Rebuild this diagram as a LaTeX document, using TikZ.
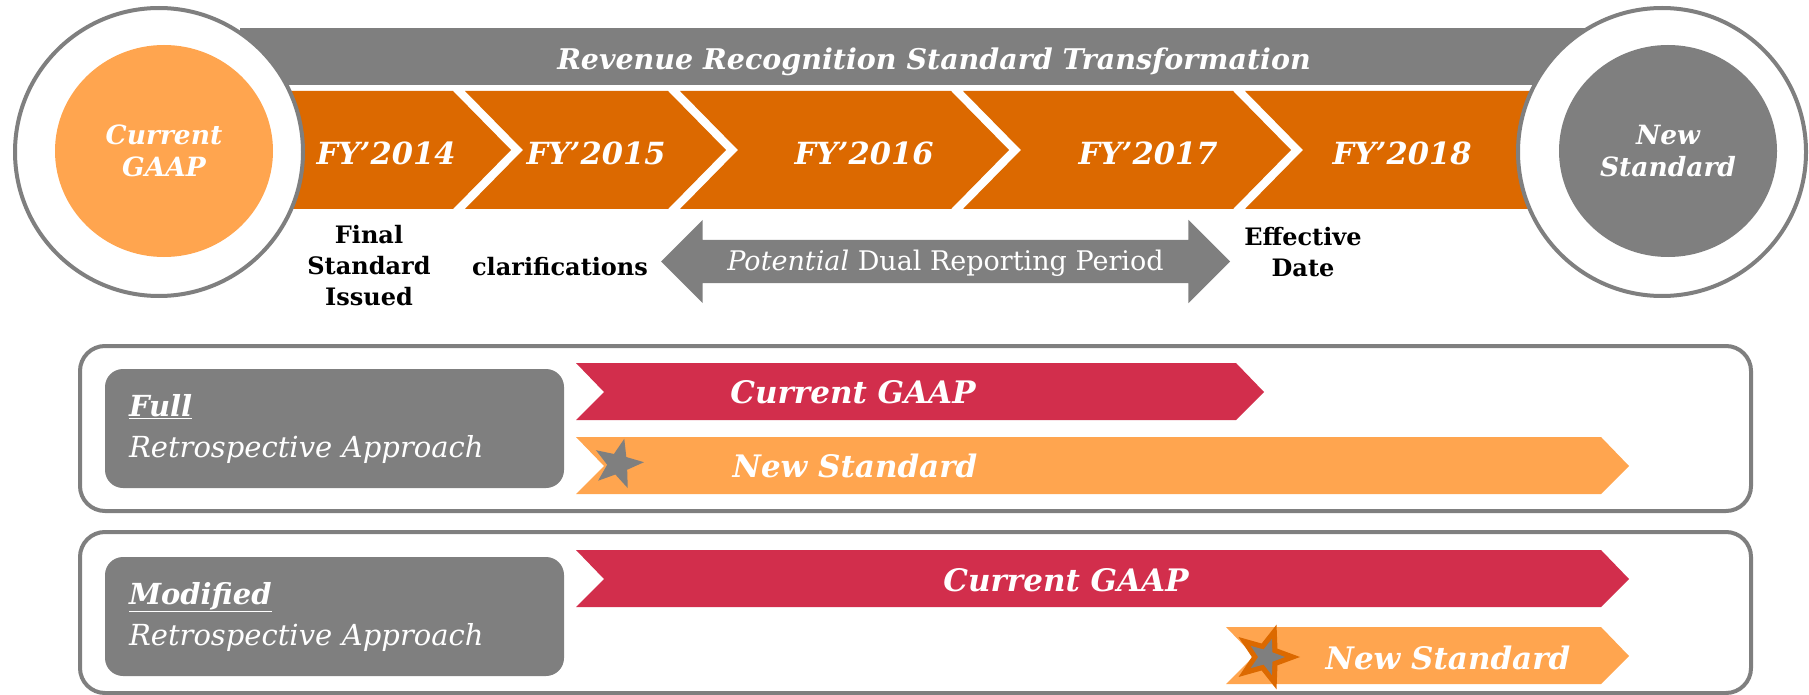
\documentclass[tikz,border=0pt]{standalone}
\usepackage{fontspec}
\setmainfont{DejaVu Serif}
\usepackage{tikz}
\usetikzlibrary{shapes.geometric, shapes.arrows}
\definecolor{orangeColor}{HTML}{DC6900}
\definecolor{lightColor}{HTML}{FFA54F}
\definecolor{redColor}{HTML}{D22E4C}
\definecolor{grayColor}{HTML}{7F7F7F}

\tikzset{
    ring/.style={circle, draw=grayColor, line width=4pt, fill=white, minimum size=288pt, inner sep=0pt},
    disc/.style={ellipse, minimum width=218pt, minimum height=212pt, inner sep=0pt, align=center,
        text=white, font=\bfseries\itshape\fontsize{26.5}{32}\selectfont},
    yearlabel/.style={text=white, font=\bfseries\itshape\fontsize{30.5}{34}\selectfont},
    milestone/.style={align=center, font=\bfseries\fontsize{24}{31}\selectfont},
    approachbox/.style={rounded corners=18pt, fill=grayColor, text=white, align=left,
        text width=411pt, inner xsep=24pt, minimum height=119pt,
        font=\itshape\fontsize{29}{41}\selectfont},
    bartext/.style={text=white, font=\bfseries\itshape\fontsize{31}{34}\selectfont},
    panel/.style={draw=grayColor, line width=4pt, rounded corners=25pt},
    starmark/.style={star, star points=5, star point ratio=2.4, inner sep=0pt}
}

\begin{document}
\begin{tikzpicture}[x=1pt, y=-1pt]
    \useasboundingbox (0,0) rectangle (1809,695);
    % title banner
    \fill[grayColor] (240,28) rectangle (1590,85);
    \node[text=white, font=\bfseries\itshape\fontsize{28.5}{32}\selectfont] (title) at (934,62)
        {Revenue Recognition Standard Transformation};
    % year chevrons
    \foreach \a/\b in {200/453, 465/668, 680/951, 963/1233}
        \fill[orangeColor] (\a,91) -- (\b,91) -- (\b+58,150) -- (\b,209) -- (\a,209) -- (\a+58,150) -- cycle;
    \fill[orangeColor] (1245,91) -- (1600,91) -- (1600,209) -- (1245,209) -- (1303,150) -- cycle;
    \foreach \yr/\cx in {2014/386, 2015/596, 2016/864, 2017/1148, 2018/1402}
        \node[yearlabel] (fy\yr) at (\cx,153) {FY'\yr};
    % start and end rings
    \node[ring] (leftring) at (159,152) {};
    \node[ring] (rightring) at (1662,152) {};
    \node[disc, fill=lightColor] (curgaap) at (164,151) {Current\\GAAP};
    \node[disc, fill=grayColor] (newstd) at (1668,151) {New\\Standard};
    % milestones
    \node[milestone] (issued) at (369,266) {Final\\Standard\\Issued};
    \node[milestone] (clarif) at (560,267) {clarifications};
    \node[milestone] (effdate) at (1303,252) {Effective\\Date};
    \node[double arrow, double arrow head extend=20pt, fill=grayColor, text=white,
        minimum height=569pt, text height=22pt, text depth=4pt, inner ysep=8.5pt,
        font=\fontsize{27}{30}\selectfont] (dual) at (945.5,261.5)
        {\textit{Potential} Dual Reporting Period};
    % transition panels
    \draw[panel] (80,346) rectangle (1751,511);
    \draw[panel] (80,532) rectangle (1751,693);
    \node[approachbox] (fullbox) at (334.5,428.5) {\textbf{\underline{Full}}\\Retrospective Approach};
    \node[approachbox] (modbox) at (334.5,616.5) {\textbf{\underline{Modified}}\\Retrospective Approach};
    \foreach \l/\r/\t/\c in {576/1236/363/redColor, 576/1601/437/lightColor, 576/1601/550/redColor, 1226/1601/627/lightColor}
        \fill[\c] (\l,\t) -- (\r,\t) -- (\r+28,\t+29) -- (\r,\t+57) -- (\l,\t+57) -- (\l+28,\t+29) -- cycle;
    \node[starmark, fill=grayColor, minimum size=52pt, rotate=-14] (fullstar) at (618,464) {};
    \node[starmark, fill=orangeColor, minimum size=68pt, rotate=-18] (modstar) at (1266,657) {};
    \node[starmark, fill=grayColor, minimum size=38pt, rotate=-18] (modstarin) at (1266,657) {};
    \node[bartext] (fullgaap) at (853,392) {Current GAAP};
    \node[bartext] (fullnew) at (855,466) {New Standard};
    \node[bartext] (modgaap) at (1066,580) {Current GAAP};
    \node[bartext] (modnew) at (1448,658) {New Standard};
\end{tikzpicture}
\end{document}
